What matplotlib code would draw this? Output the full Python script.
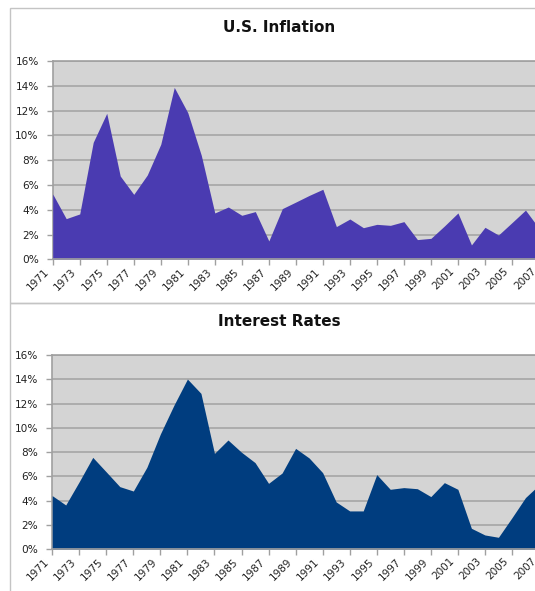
import numpy as np
import matplotlib.pyplot as plt
from matplotlib.patches import Rectangle
from matplotlib.ticker import FuncFormatter
from matplotlib.transforms import offset_copy

years = list(range(1971, 2008))
inflation = [5.27, 3.28, 3.66, 9.44, 11.78, 6.72, 5.24, 6.80, 9.28, 13.87,
             11.83, 8.39, 3.74, 4.22, 3.55, 3.85, 1.48, 4.09, 4.62, 5.16,
             5.65, 2.64, 3.25, 2.55, 2.82, 2.74, 3.04, 1.59, 1.69, 2.69,
             3.74, 1.16, 2.58, 1.96, 2.96, 3.97, 2.5]
interest = [4.42, 3.65, 5.57, 7.57, 6.37, 5.16, 4.80, 6.75, 9.50, 11.86,
            14.02, 12.84, 7.90, 9.00, 7.99, 7.14, 5.43, 6.28, 8.31, 7.52,
            6.31, 3.90, 3.16, 3.16, 6.15, 4.94, 5.08, 4.99, 4.34, 5.49,
            4.94, 1.73, 1.18, 0.99, 2.60, 4.26, 5.3]
year_ticks = list(range(1971, 2008, 2))
pct_ticks = [0, 2, 4, 6, 8, 10, 12, 14, 16]

W, H = 535, 591
fig = plt.figure(figsize=(W / 100, H / 100), dpi=100)

def px(x0, y0, x1, y1):
    # pixel box (top-left origin) -> figure fraction rect
    return [x0 / W, 1 - y1 / H, (x1 - x0) / W, (y1 - y0) / H]

# panel frames
for (x0, y0, x1, y1) in [(10, 8, 546, 303), (10, 303, 546, 610)]:
    fig.patches.append(Rectangle((x0 / W, 1 - y1 / H), (x1 - x0) / W, (y1 - y0) / H,
                                 transform=fig.transFigure, fill=False,
                                 edgecolor='#c4c4c4', lw=1.0))

def draw(ax, vals, color, title, ty):
    ax.set_facecolor('#d4d4d4')
    ax.fill_between(years, 0, vals, color=color, lw=0, zorder=3)
    ax.set_xlim(1971, 2007)
    ax.set_ylim(0, 16)
    ax.set_yticks(pct_ticks)
    ax.yaxis.set_major_formatter(FuncFormatter(lambda v, p: '%d%%' % v))
    ax.set_xticks(year_ticks)
    ax.set_xticklabels([])
    # rotated year labels, sitting a little left of their ticks
    tr = offset_copy(ax.get_xaxis_transform(), fig=fig, x=-6, y=-5, units='points')
    for y in year_ticks:
        ax.text(y, 0, str(y), transform=tr, rotation=45, ha='right', va='top',
                rotation_mode='anchor', fontsize=7.5, color='#222222',
                clip_on=False)
    ax.grid(axis='y', color='#a9a9a9', lw=1.3, zorder=1)
    ax.set_axisbelow(True)
    ax.spines['right'].set_visible(False)
    for s in ['left', 'bottom', 'top']:
        ax.spines[s].set_color('#a0a0a0')
        ax.spines[s].set_linewidth(1.2)
    ax.spines['bottom'].set_zorder(4)
    ax.tick_params(axis='both', colors='#a0a0a0', labelcolor='#222222',
                   labelsize=7.6, length=4, width=1)
    ax.tick_params(axis='y', pad=6)
    fig.text(279 / W, 1 - ty / H, title, ha='center', va='center',
             fontsize=11, fontweight='bold', color='#111111')

ax1 = fig.add_axes(px(52.7, 61, 539, 259.3))
draw(ax1, inflation, '#4a3bb1', 'U.S. Inflation', 27.5)

ax2 = fig.add_axes(px(52.2, 355, 539, 549.3))
draw(ax2, interest, '#003d7f', 'Interest Rates', 321.7)

plt.savefig('out.png', dpi=100)
